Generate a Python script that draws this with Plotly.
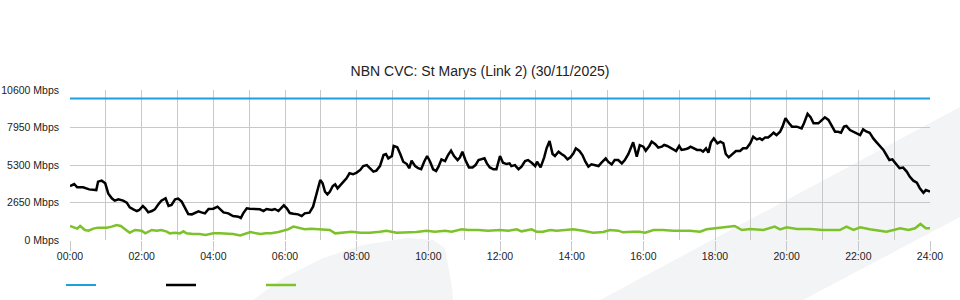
import plotly.graph_objects as go

# ---- data ----
TITLE = "NBN CVC: St Marys (Link 2) (30/11/2025)"

capacity_minutes = [0, 1440]
capacity_mbps = [10000, 10000]

download_minutes = [
    0, 7, 12, 22, 32, 42, 44, 47, 53, 59, 64, 70, 75, 81, 89, 95, 100, 106, 112, 116,
    122, 126, 131, 137, 142, 148, 153, 160, 165, 170, 176, 181, 187, 193, 198, 204, 209, 215, 220, 226,
    232, 240, 247, 251, 257, 265, 273, 282, 286, 290, 296, 301, 310, 318, 324, 329, 338, 343, 349, 354,
    358, 363, 368, 374, 382, 388, 393, 401, 407, 413, 419,
    423, 427, 431, 435, 440, 444, 448, 452, 458, 463, 468, 474, 480, 486, 491, 497, 502, 508, 513, 519,
    525, 529, 533, 539, 542, 548, 553, 558, 564, 568, 572, 578, 583, 588, 593, 598, 603, 608, 613, 617,
    622, 628, 633, 638, 643, 649, 653, 657, 662, 668, 674, 679, 684, 689, 694, 698, 703, 709, 714, 720,
    725, 731, 736, 739, 745, 751, 756, 762, 767, 773, 779, 782, 788, 794, 798, 803, 808, 812, 818, 823,
    828, 833, 838, 843, 847, 853, 858, 863, 868, 873, 879, 885, 890, 897, 901, 907, 912, 918, 924, 929,
    935, 939, 943, 949, 954,
    960, 964, 970, 974, 980, 985, 991, 995, 1000, 1006, 1011, 1015, 1020, 1024, 1030, 1035, 1039, 1045, 1050, 1056,
    1060, 1065, 1069, 1073, 1078, 1084, 1089, 1094, 1098, 1103, 1109, 1115, 1122, 1127, 1133, 1139, 1144, 1150, 1155, 1159,
    1164, 1169, 1174, 1178, 1183, 1189, 1193, 1198, 1204, 1209, 1217, 1225, 1229, 1235, 1240, 1245, 1253, 1259, 1264, 1270,
    1275, 1281, 1286, 1291, 1296, 1300, 1306, 1312, 1317, 1323, 1328, 1334, 1339, 1345, 1351, 1356, 1362, 1367, 1372, 1377,
    1383, 1389, 1395, 1401, 1406, 1412, 1418, 1423, 1429, 1433, 1438, 1440,
]
download_mbps = [
    3814, 3956, 3719, 3719, 3577, 3577, 3530, 4122, 4193, 4004, 3293, 2948, 2782, 2877, 2782, 2640, 2308, 2166, 2048, 2119,
    2403, 2237, 1953, 2048, 2166, 2522, 2782, 2948, 2403, 2474, 2877, 2924, 2711, 2237, 1834, 1811, 1929, 2024, 1953, 1882,
    2190, 2213, 2356, 2190, 1953, 1882, 1692, 1645, 1550, 1882, 2237, 2213, 2213, 2166, 2048, 2190, 2119, 2190, 2048, 2261,
    2451, 2237, 1906, 1858, 1811, 1692, 1882, 1929, 2356, 3293, 4241,
    4004, 3411, 3222, 3411, 3814, 3933, 3648, 3814, 4122, 4359, 4715, 4644, 4762, 4952, 5224, 5295, 5070, 4833, 4904, 5224,
    6006, 6077, 5769, 5935, 6646, 6551, 6077, 5532, 5366, 5070, 5603, 5224, 5070, 4999, 5532, 5935, 5532, 4999, 4881, 5177,
    5698, 5580, 6006, 6314, 5935, 5651, 5841, 6243, 5651, 5130, 5130, 5295, 5651, 5698, 5769, 5414, 5130, 4999, 4999, 5935,
    5461, 5366, 5414, 5224, 5295, 4999, 5177, 5580, 5651, 5461, 5224, 5532, 5130, 5841, 6480, 7002, 6077, 5935, 6243, 6077,
    5935, 5698, 5841, 6125, 6480, 6291, 6006, 5532, 5177, 5343, 5295, 5224, 5461, 5769, 5532, 5343, 5651, 5651, 5414, 5651,
    6077, 6480, 6907, 5888, 6705,
    6599, 6314, 6646, 6954, 6765, 6528, 6599, 6717, 6646, 6480, 6362, 6291, 6646, 6362, 6409, 6480, 6599, 6480, 6362, 6362,
    6243, 6480, 6172, 6883, 7180, 6836, 6954, 6836, 6077, 5841, 6077, 6291, 6291, 6480, 6480, 6836, 7299, 7109, 7180, 7073,
    7251, 7251, 7417, 7583, 7417, 7654, 8010, 8602, 8247, 8010, 8010, 7891, 8247, 8910, 8673, 8247, 8247, 8484, 8673, 8484,
    8128, 7654, 7654, 7583, 8010, 8057, 7773, 7654, 7583, 7417, 7820, 7654, 7583, 7180, 6883, 6646, 6362, 6006, 5651, 5698,
    5414, 5070, 5118, 4833, 4478, 4193, 4051, 3648, 3340, 3530, 3459, 3411,
]

upload_minutes = [
    0, 7, 12, 17, 25, 31, 39, 47, 61, 70, 78, 85, 92, 100, 109, 120, 126, 137, 145, 153,
    162, 167, 176, 184, 190, 195, 206, 217, 227, 240, 251, 262, 273, 285, 295, 302, 312, 319, 328, 337,
    349, 357, 365, 374, 382, 393, 404, 415,
    419, 435, 444, 458, 472, 486, 502, 519, 530, 547, 564, 580, 597, 611, 628, 639, 656, 667, 684, 700,
    720, 734, 748, 756, 773, 781, 792, 804, 815, 843, 859, 876, 893, 904, 918, 926, 943, 954,
    963, 977, 993, 1010, 1038, 1055, 1066, 1080, 1100, 1113, 1125, 1139, 1161, 1180, 1189, 1200, 1217, 1239,
    1261, 1278, 1289, 1300, 1312, 1323, 1339, 1356, 1367, 1379, 1390, 1404, 1415, 1424, 1433, 1440,
]
upload_mbps = [
    991, 896, 802, 991, 707, 659, 802, 873, 873, 944, 1062, 991, 754, 517, 707, 659, 470, 707, 659, 707,
    588, 470, 517, 470, 612, 470, 422, 422, 351, 470, 470, 470, 422, 328, 470, 564, 470, 422, 470, 470,
    564, 659, 754, 944, 849, 754, 802, 754,
    778, 707, 470, 517, 588, 517, 517, 588, 659, 517, 517, 564, 659, 588, 659, 588, 754, 707, 707, 659,
    707, 659, 754, 612, 754, 588, 588, 707, 659, 754, 659, 517, 564, 707, 659, 541, 588, 588,
    517, 707, 707, 659, 659, 588, 754, 825, 896, 991, 707, 778, 707, 944, 754, 896, 778, 778,
    707, 707, 707, 944, 707, 896, 754, 659, 588, 707, 825, 707, 825, 1133, 825, 825,
]

y_tick_values = [0, 2650, 5300, 7950, 10600]
y_tick_labels = ["0 Mbps", "2650 Mbps", "5300 Mbps", "7950 Mbps", "10600 Mbps"]
x_tick_hours = list(range(0, 25, 2))
x_tick_labels = ["%02d:00" % h for h in x_tick_hours]
x_minor_hours = list(range(1, 24, 2))

# ---- figure ----
W, H = 960, 300
L, R, T, B = 70, 30, 90, 60
PW, PH = W - L - R, H - T - B


def px_to_paper(px, py):
    return (px - L) / PW, (H - B - py) / PH


def path_from_px(points):
    parts = []
    for i, (px, py) in enumerate(points):
        x, y = px_to_paper(px, py)
        parts.append(("M" if i == 0 else "L") + f"{x:.4f},{y:.4f}")
    return " ".join(parts) + " Z"


BLUE = "#1ea0e0"
BLACK = "#000000"
GREEN = "#7dc22b"
GRID = "#c8c8c8"
TEXT = "#222222"
DECOR = "#f3f4f6"

fig = go.Figure()
fig.add_trace(go.Scatter(x=[m / 60 for m in capacity_minutes], y=capacity_mbps, mode="lines",
                         line=dict(color=BLUE, width=2), name=""))
fig.add_trace(go.Scatter(x=[m / 60 for m in download_minutes], y=download_mbps, mode="lines",
                         line=dict(color=BLACK, width=2.5), name=""))
fig.add_trace(go.Scatter(x=[m / 60 for m in upload_minutes], y=upload_mbps, mode="lines",
                         line=dict(color=GREEN, width=2.5), name=""))

# decorative background swoosh
fin = [(253, 300), (283, 278), (323, 258), (363, 245), (407, 238), (433, 240),
       (445, 248), (452, 287), (453, 300)]
band = [(600, 300), (960, 107), (960, 217), (803, 300)]
shapes = [
    dict(type="path", xref="paper", yref="paper", path=path_from_px(fin),
         fillcolor=DECOR, line=dict(width=0), layer="below"),
    dict(type="path", xref="paper", yref="paper", path=path_from_px(band),
         fillcolor=DECOR, line=dict(width=0), layer="below"),
]

lx, ly = px_to_paper(61, 285)
fig.update_layout(
    width=W, height=H,
    margin=dict(l=L, r=R, t=T, b=B, pad=0, autoexpand=False),
    paper_bgcolor="white", plot_bgcolor="rgba(0,0,0,0)",
    font=dict(family="Liberation Sans, Arial, sans-serif", size=10.5, color=TEXT),
    title=dict(text=TITLE, x=0.5, xanchor="center", xref="container",
               y=1 - 71 / H, yref="container", yanchor="middle",
               font=dict(size=14, color=TEXT)),
    shapes=shapes,
    showlegend=True,
    legend=dict(orientation="h", x=lx, y=ly, xanchor="left", yanchor="middle",
                entrywidth=55, entrywidthmode="pixels", itemwidth=30,
                bgcolor="rgba(0,0,0,0)", font=dict(size=11)),
    hovermode="x unified",
)
fig.update_xaxes(range=[0, 24], tickmode="array", tickvals=x_tick_hours, ticktext=x_tick_labels,
                 showgrid=True, gridcolor=GRID, gridwidth=1, zeroline=False, showline=False,
                 ticks="outside", ticklen=10, tickcolor=GRID, tickwidth=1, ticklabelstandoff=-4,
                 minor=dict(tickmode="array", tickvals=x_minor_hours, showgrid=True,
                            gridcolor=GRID, gridwidth=1, ticks=""),
                 fixedrange=True)
fig.update_yaxes(range=[0, 10600], tickmode="array", tickvals=y_tick_values, ticktext=y_tick_labels,
                 showgrid=True, gridcolor=GRID, gridwidth=1, zeroline=False, showline=False,
                 ticks="", ticklabelstandoff=10, fixedrange=True)

fig.write_html("out.html")
